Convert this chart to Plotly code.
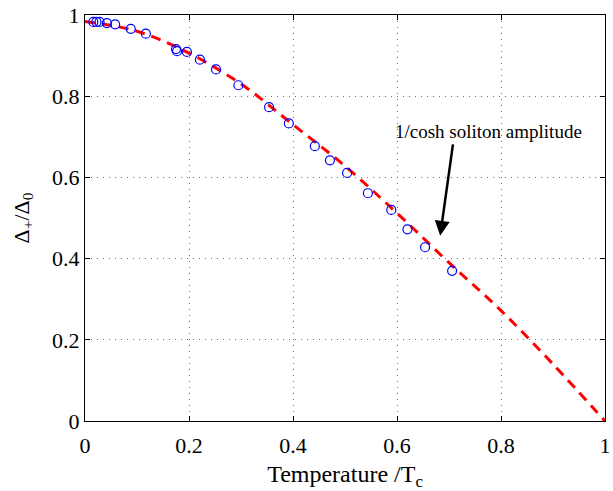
import plotly.graph_objects as go

# Measured data (circles)
t_data = [0.016, 0.022, 0.028, 0.042, 0.058, 0.088, 0.117, 0.175, 0.177, 0.196,
          0.221, 0.252, 0.295, 0.354, 0.392, 0.442, 0.471, 0.504, 0.544, 0.589,
          0.620, 0.654, 0.706]
d_data = [0.983, 0.983, 0.983, 0.980, 0.977, 0.966, 0.954, 0.916, 0.911, 0.909,
          0.890, 0.866, 0.827, 0.773, 0.733, 0.677, 0.642, 0.611, 0.561, 0.520,
          0.472, 0.428, 0.370]

# 1/cosh soliton amplitude curve (dashed)
t_line = [0.0, 0.1, 0.2, 0.3, 0.4, 0.5, 0.6, 0.7, 0.8, 0.9, 1.0]
d_line = [0.984, 0.960, 0.906, 0.830, 0.730, 0.628, 0.512, 0.390, 0.272, 0.140, 0.0]

tick_vals = [0, 0.2, 0.4, 0.6, 0.8, 1]
tick_text = ["0", "0.2", "0.4", "0.6", "0.8", "1"]

fig = go.Figure()
fig.add_trace(go.Scatter(x=t_line, y=d_line, mode="lines", line_shape="spline",
                         line=dict(color="#ff0000", width=3, dash="10px,7px"),
                         showlegend=False, cliponaxis=False))
fig.add_trace(go.Scatter(x=t_data, y=d_data, mode="markers",
                         marker=dict(symbol="circle-open", size=9, color="#0000ff",
                                     line=dict(width=1.2, color="#0000ff")),
                         showlegend=False, cliponaxis=False))

fam = "Liberation Serif, Times New Roman, serif"
tick_font = dict(family=fam, size=22, color="black")
ann_font = dict(family=fam, size=19, color="black")
xt_font = dict(family=fam, size=24, color="black")
yt_font = dict(family=fam, size=22, color="black")

axis_common = dict(range=[-0.00001, 1.00001], tickvals=tick_vals, ticktext=tick_text,
                   showgrid=True, gridcolor="#6f6f6f", griddash="1px,5px", gridwidth=1,
                   zeroline=False, showline=True, linecolor="black", linewidth=1.3,
                   mirror="ticks", ticks="inside", ticklen=5, tickcolor="black",
                   tickfont=tick_font, automargin=False, ticklabeloverflow="allow")

fig.update_layout(
    width=613, height=491,
    margin=dict(l=85, r=8, t=15, b=70, autoexpand=False),
    paper_bgcolor="white", plot_bgcolor="white",
    font=tick_font,
    xaxis=dict(axis_common, ticklabelstandoff=4,
               title=dict(text="Temperature /T<sub>c</sub>", font=xt_font, standoff=8)),
    yaxis=dict(axis_common,
               title=dict(text="Δ<sub>+</sub>/Δ<sub>0</sub>", font=yt_font, standoff=16)),
    annotations=[
        dict(x=0.683, y=0.456, xref="x", yref="y", ax=0.708, ay=0.685, axref="x", ayref="y",
             text="", showarrow=True, arrowhead=2, arrowsize=1.2, arrowwidth=2.5,
             arrowcolor="black"),
        dict(x=0.775, y=0.714, xref="x", yref="y", text="1/cosh soliton amplitude",
             showarrow=False, font=ann_font),
    ],
)

fig.write_html("out.html", config={"displayModeBar": False},
               post_script="document.body.style.margin='0';")
